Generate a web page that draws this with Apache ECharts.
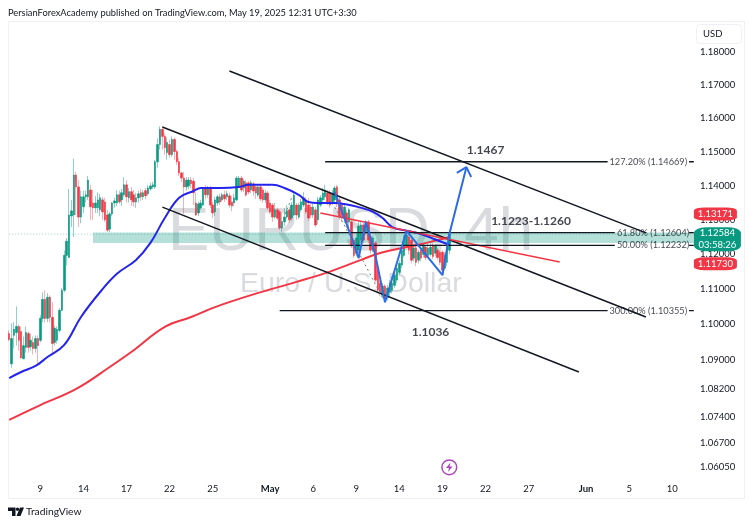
<!DOCTYPE html>
<html><head><meta charset="utf-8">
<style>html,body{margin:0;padding:0;background:#fff}#c{width:753px;height:527px}</style>
<script src="https://cdn.jsdelivr.net/npm/echarts@6/dist/echarts.min.js"></script></head>
<body><div id="c"></div>
<script>
// Bars: [open, close, low, high]
const ohlc = [
[1.0974,1.0957,1.0952,1.0983],[1.0889,1.0960,1.0878,1.1003],[1.0969,1.0986,1.0932,1.1006],[1.0977,1.0994,1.0940,1.1051],
[1.0994,1.0955,1.0926,1.1000],[1.0980,1.0906,1.0903,1.0994],[1.0903,1.0940,1.0903,1.0966],[1.0935,1.0977,1.0920,1.0994],
[1.0974,1.0935,1.0920,1.0980],[1.0937,1.0955,1.0926,1.0974],[1.0949,1.0932,1.0915,1.0966],[1.0932,1.0960,1.0920,1.0969],
[1.0960,1.0940,1.0889,1.0969],[1.0955,1.1017,1.0949,1.1026],[1.1017,1.1071,1.1006,1.1091],[1.1071,1.1017,1.1006,1.1097],
[1.1017,1.1077,1.1006,1.1089],[1.1077,1.1020,1.1006,1.1083],[1.1020,1.0946,1.0912,1.1063],[1.0949,1.0989,1.0940,1.0997],
[1.0955,1.0986,1.0946,1.0994],[1.0983,1.1040,1.0977,1.1046],[1.1040,1.1097,1.1037,1.1103],[1.1097,1.1197,1.1091,1.1211],
[1.1197,1.1238,1.1168,1.1247],[1.1191,1.1314,1.1191,1.1390],[1.1311,1.1326,1.1279,1.1358],[1.1314,1.1431,1.1250,1.1479],
[1.1431,1.1396,1.1314,1.1440],[1.1396,1.1308,1.1279,1.1416],[1.1308,1.1367,1.1290,1.1385],[1.1338,1.1367,1.1320,1.1385],
[1.1367,1.1373,1.1350,1.1385],[1.1367,1.1416,1.1358,1.1428],[1.1387,1.1338,1.1300,1.1402],[1.1349,1.1335,1.1300,1.1387],
[1.1335,1.1349,1.1320,1.1370],[1.1335,1.1358,1.1320,1.1380],[1.1329,1.1364,1.1310,1.1376],[1.1358,1.1323,1.1300,1.1367],
[1.1352,1.1300,1.1294,1.1364],[1.1314,1.1270,1.1264,1.1329],[1.1273,1.1317,1.1264,1.1323],[1.1317,1.1349,1.1310,1.1352],
[1.1349,1.1355,1.1335,1.1364],[1.1349,1.1373,1.1340,1.1387],[1.1373,1.1352,1.1346,1.1385],[1.1358,1.1379,1.1340,1.1390],
[1.1373,1.1402,1.1367,1.1425],[1.1402,1.1367,1.1350,1.1416],[1.1364,1.1382,1.1350,1.1393],[1.1382,1.1358,1.1340,1.1396],
[1.1373,1.1352,1.1338,1.1387],[1.1352,1.1364,1.1335,1.1379],[1.1364,1.1376,1.1350,1.1385],[1.1379,1.1367,1.1355,1.1390],
[1.1367,1.1379,1.1358,1.1387],[1.1385,1.1370,1.1360,1.1393],[1.1376,1.1393,1.1370,1.1402],[1.1390,1.1399,1.1385,1.1408],
[1.1396,1.1402,1.1390,1.1411],[1.1396,1.1470,1.1390,1.1476],[1.1470,1.1521,1.1452,1.1539],[1.1521,1.1566,1.1506,1.1575],
[1.1566,1.1545,1.1506,1.1575],[1.1545,1.1512,1.1491,1.1554],[1.1497,1.1527,1.1476,1.1542],[1.1521,1.1491,1.1482,1.1536],
[1.1491,1.1536,1.1485,1.1545],[1.1536,1.1500,1.1476,1.1542],[1.1500,1.1470,1.1461,1.1506],[1.1470,1.1437,1.1428,1.1482],
[1.1437,1.1422,1.1410,1.1440],[1.1422,1.1396,1.1317,1.1440],[1.1396,1.1416,1.1385,1.1425],[1.1399,1.1416,1.1390,1.1425],
[1.1416,1.1405,1.1393,1.1425],[1.1413,1.1379,1.1343,1.1422],[1.1349,1.1314,1.1311,1.1379],[1.1320,1.1346,1.1311,1.1352],
[1.1335,1.1349,1.1329,1.1358],[1.1343,1.1393,1.1340,1.1396],[1.1393,1.1373,1.1360,1.1402],[1.1373,1.1393,1.1364,1.1399],
[1.1393,1.1343,1.1335,1.1399],[1.1343,1.1320,1.1305,1.1352],[1.1323,1.1358,1.1311,1.1367],[1.1349,1.1367,1.1340,1.1373],
[1.1367,1.1352,1.1343,1.1376],[1.1358,1.1373,1.1352,1.1379],[1.1373,1.1361,1.1352,1.1385],[1.1367,1.1376,1.1358,1.1385],
[1.1370,1.1343,1.1335,1.1379],[1.1352,1.1340,1.1325,1.1370],[1.1349,1.1364,1.1340,1.1376],
[1.1358,1.1422,1.1355,1.1428],[1.1399,1.1422,1.1393,1.1428],[1.1422,1.1387,1.1381,1.1428],[1.1393,1.1413,1.1381,1.1419],
[1.1408,1.1372,1.1367,1.1416],[1.1408,1.1381,1.1375,1.1413],[1.1387,1.1408,1.1378,1.1416],[1.1405,1.1384,1.1370,1.1411],
[1.1396,1.1378,1.1361,1.1402],[1.1372,1.1396,1.1367,1.1402],[1.1396,1.1361,1.1355,1.1402],[1.1387,1.1358,1.1349,1.1393],
[1.1358,1.1378,1.1349,1.1387],[1.1378,1.1335,1.1329,1.1384],[1.1349,1.1323,1.1317,1.1358],[1.1343,1.1308,1.1294,1.1349],
[1.1308,1.1329,1.1303,1.1349],[1.1329,1.1305,1.1300,1.1335],[1.1323,1.1276,1.1270,1.1329],[1.1276,1.1294,1.1265,1.1320],
[1.1294,1.1308,1.1282,1.1335],[1.1308,1.1326,1.1303,1.1343],[1.1329,1.1300,1.1291,1.1337],[1.1305,1.1343,1.1297,1.1352],
[1.1314,1.1372,1.1311,1.1381],[1.1343,1.1314,1.1300,1.1349],[1.1308,1.1343,1.1303,1.1349],[1.1329,1.1352,1.1323,1.1361],
[1.1343,1.1364,1.1337,1.1381],[1.1358,1.1323,1.1317,1.1367],[1.1343,1.1305,1.1297,1.1364],[1.1337,1.1314,1.1305,1.1346],
[1.1314,1.1337,1.1305,1.1346],[1.1329,1.1285,1.1279,1.1337],[1.1300,1.1358,1.1288,1.1367],[1.1343,1.1364,1.1337,1.1372],
[1.1358,1.1378,1.1349,1.1393],[1.1367,1.1387,1.1358,1.1402],[1.1378,1.1349,1.1343,1.1387],[1.1378,1.1343,1.1335,1.1387],
[1.1349,1.1378,1.1343,1.1387],[1.1358,1.1393,1.1349,1.1399],[1.1396,1.1349,1.1337,1.1402],[1.1358,1.1308,1.1300,1.1367],
[1.1343,1.1305,1.1294,1.1352],[1.1305,1.1337,1.1291,1.1343],[1.1320,1.1291,1.1276,1.1329],[1.1294,1.1329,1.1276,1.1335],
[1.1294,1.1227,1.1218,1.1300],[1.1241,1.1197,1.1189,1.1247],[1.1203,1.1247,1.1194,1.1262],[1.1212,1.1282,1.1206,1.1294],
[1.1241,1.1285,1.1232,1.1294],[1.1285,1.1241,1.1232,1.1291],[1.1265,1.1294,1.1256,1.1300],[1.1294,1.1241,1.1232,1.1300],
[1.1250,1.1212,1.1203,1.1259],[1.1212,1.1247,1.1206,1.1253],[1.1233,1.1126,1.1120,1.1238],[1.1154,1.1097,1.1088,1.1160],
[1.1117,1.1088,1.1080,1.1126],[1.1083,1.1109,1.1074,1.1117],[1.1109,1.1074,1.1063,1.1114],[1.1077,1.1103,1.1068,1.1112],
[1.1091,1.1117,1.1080,1.1126],[1.1097,1.1117,1.1088,1.1137],[1.1111,1.1140,1.1103,1.1148],[1.1126,1.1160,1.1117,1.1169],
[1.1148,1.1174,1.1140,1.1183],[1.1169,1.1212,1.1160,1.1221],[1.1197,1.1241,1.1191,1.1256],[1.1227,1.1256,1.1218,1.1268],
[1.1250,1.1212,1.1200,1.1259],[1.1241,1.1183,1.1174,1.1247],[1.1189,1.1218,1.1180,1.1224],[1.1218,1.1177,1.1166,1.1224],
[1.1183,1.1206,1.1174,1.1212],[1.1212,1.1189,1.1180,1.1221],[1.1200,1.1227,1.1191,1.1233],[1.1221,1.1191,1.1183,1.1227],
[1.1197,1.1218,1.1189,1.1233],[1.1200,1.1221,1.1194,1.1238],[1.1227,1.1194,1.1186,1.1233],[1.1203,1.1224,1.1194,1.1229],
[1.1212,1.1191,1.1183,1.1218],[1.1206,1.1177,1.1169,1.1212],[1.1206,1.1154,1.1143,1.1212],[1.1160,1.1197,1.1154,1.1206],
[1.1177,1.1218,1.1166,1.1224],[1.1212,1.12584,1.1200,1.1273]
];
// Moving averages: [bar, price]
const maBlue = [[0,1.0849],[5,1.0866],[11,1.0883],[16,1.0908],[23,1.0942],[30,1.1021],[38,1.1092],[45,1.1144],[53,1.1184],[59,1.1233],[65,1.1305],[71,1.1364],[77,1.1384],[80,1.1393],[88,1.1393],[96,1.1396],[100,1.1402],[110,1.1402],[115,1.1393],[121,1.1373],[125,1.1352],[129,1.1349],[136,1.1349],[140,1.1346],[146,1.1337],[152,1.1323],[156,1.1305],[160,1.1279],[166,1.1268],[172,1.1259],[178,1.1243],[184,1.1227]];
const maRed = [[0,1.0733],[13,1.0774],[28,1.0819],[42,1.0880],[51,1.0922],[65,1.0993],[76,1.1021],[86,1.1049],[101,1.1083],[120,1.1121],[132,1.1146],[147,1.1184],[155,1.1204],[166,1.1221],[176,1.1236],[184,1.1250]];
// Drawings: [bar, price]
const channelTop = [[92,1.1741],[266,1.1262]];
const channelMid = [[64,1.1573],[266,1.1021]];
const channelLow = [[64,1.1337],[238,1.0866]];
const redTrend = [[130,1.1320],[230,1.1178]];
const zigzag = [[136,1.1381],[143,1.1250],[146,1.1189],[149,1.1294],[153,1.1197],[157,1.1063],[166,1.1268],[181,1.1140],[184,1.1262],[191,1.1454]];
const arrowHead = [[187,1.1437],[191,1.1454],[193,1.1425]];
const dashA = [[136,1.1337],[156,1.1075]];
const dashB = [[113,1.1276],[118,1.1364]];
const zone = [35,286,1.1263,1.1233];
// Fibonacci: [startBar, endBar, price as drawn, labelBar, label]
const fibLines = [[132,250,1.1470,267,'127.20% (1.14669)'],[132,253,1.1263,269,'61.80% (1.12604)'],[132,253,1.1226,269,'50.00% (1.12232)'],[113,250,1.1039,267,'300.00% (1.10355)']];
const notes = [[199,1.1505,'1.1467'],[218,1.1297,'1.1223-1.1260'],[176,1.0979,'1.1036']];
const lastPrice = 1.12584, highBadge = 1.13171, lowBadge = 1.11730, countdown = '03:58:26';
const priceTicks = [1.18,1.17,1.16,1.15,1.14,1.13,1.12,1.11,1.10,1.09,1.082,1.074,1.067,1.0605];
const dateTickBars = [13,31,49,67,85,109,127,145,163,181,199,217,241,259,277];
const dateTickText = ['9','14','17','22','25','May','6','9','14','19','22','27','Jun','5','10'];
const barCount = 287;

const categories = Array.from({length:barCount},(_,i)=>String(i));
const FONT = 'Lato,"Open Sans",sans-serif';
const UP='#089981', DOWN='#f23645';
const wicks = ohlc;
const bodies = ohlc.map(b=>[b[0],b[1],Math.min(b[0],b[1]),Math.max(b[0],b[1])]);
const line=(name,data,color,width,extra)=>Object.assign({name,type:'line',data,symbol:'none',silent:true,animation:false,
  lineStyle:{color,width},itemStyle:{color}},extra||{});

const fibSeries = [];
fibLines.forEach((f,k)=>{
  fibSeries.push(line('fib'+k,[[f[0],f[2]],[f[1],f[2]]],'#131722',1.3));
  fibSeries.push(line('fibtail'+k,[[284,f[2]],[286,f[2]]],'#131722',1.3));
});
const textPoint=(bar,price,txt,size,weight)=>({value:[bar,price],label:{show:true,position:'inside',formatter:txt,fontSize:size,fontWeight:weight,color:'#131722',fontFamily:FONT}});
const texts = fibLines.map(f=>textPoint(f[3],f[2],f[4],9.2,'normal')).concat(notes.map(n=>textPoint(n[0],n[1],n[2],12,'bold')));
const badge=(value,txt,color,w,h,dx,dy)=>({coord:[categories[286],value],symbol:'roundRect',symbolSize:[w,h],symbolOffset:[dx,dy],itemStyle:{color},
  label:{show:true,position:'inside',formatter:txt,color:'#fff',fontSize:9.5,lineHeight:12,fontFamily:FONT}});

const chart = echarts.init(document.getElementById('c'),null,{renderer:'canvas'});
chart.setOption({
  animation:false,
  grid:{left:8,top:21,width:687,height:458,containLabel:false,show:false},
  xAxis:{type:'category',data:categories,boundaryGap:true,axisLine:{show:false},axisTick:{show:false},splitLine:{show:false},
    axisLabel:{interval:i=>dateTickBars.includes(i),margin:5,fontSize:9.5,color:'#131722',fontFamily:FONT,hideOverlap:false,
      formatter:(v,i)=>{const t=dateTickText[dateTickBars.indexOf(+v)];return t==='May'||t==='Jun'?'{b|'+t+'}':(t||'');},
      rich:{b:{fontWeight:'bold',fontSize:9.5,color:'#131722',fontFamily:FONT}}}},
  yAxis:{type:'log',logBase:Math.E,position:'right',min:1.0571,max:1.1893,scale:true,axisLine:{show:false},axisTick:{show:false},splitLine:{show:false},minorTick:{show:false},minorSplitLine:{show:false},
    axisLabel:{customValues:priceTicks,margin:5,fontSize:9.5,padding:[2,0,0,0],color:'#131722',fontFamily:FONT,formatter:v=>(+v).toFixed(5)}},
  graphic:[
    {type:'rect',z:0,shape:{x:8.5,y:21.5,width:736,height:477},style:{fill:'#fff',stroke:'#f0f1f4',lineWidth:1},silent:true},
    {type:'text',z:1,left:168,top:202,style:{text:'EURUSD, 4h',font:'62px "Liberation Sans"',fill:'#dadbde'},silent:true},
    {type:'text',z:1,left:240,top:270,style:{text:'Euro / U.S. Dollar',font:'28.5px "Liberation Sans"',fill:'#dadbde'},silent:true},
    {type:'rect',z:3,shape:{x:696.5,y:24.5,width:45,height:19,r:4},style:{fill:'#fff',stroke:'#eff0f3'},silent:true},
    {type:'text',z:4,left:703,top:29,style:{text:'USD',font:'9.5px '+FONT,fill:'#131722'},silent:true},
    {type:'text',z:4,left:8,top:8,style:{text:'PersianForexAcademy published on TradingView.com, May 19, 2025 12:31 UTC+3:30',font:'9.3px '+FONT,fill:'#131722'},silent:true},
    {type:'text',z:4,left:26,top:507,style:{text:'TradingView',font:'10.3px '+FONT,fill:'#131722'},silent:true},
    {type:'polygon',z:4,shape:{points:[[8,507.5],[15.5,507.5],[15.5,516],[12,516],[12,511],[8,511]]},style:{fill:'#131722'},silent:true},
    {type:'circle',z:4,shape:{cx:17.5,cy:509.2,r:1.7},style:{fill:'#131722'},silent:true},
    {type:'polygon',z:4,shape:{points:[[20,507.5],[24,507.5],[20.5,516],[16.5,516]]},style:{fill:'#131722'},silent:true},
    {type:'circle',z:4,shape:{cx:449.3,cy:467.3,r:7.4},style:{fill:'#fff',stroke:'#ab47bc',lineWidth:1.5},silent:true},
    {type:'polygon',z:5,shape:{points:[[450.5,462.5],[446,468],[449,468],[448,472],[452.6,466.6],[449.6,466.6]]},style:{fill:'#ab47bc'},silent:true}
  ],
  series:[
    {name:'wicks',type:'candlestick',data:wicks,barWidth:1,silent:true,animation:false,z:2,
      itemStyle:{color:'rgba(8,153,129,.45)',color0:'rgba(242,54,69,.4)',borderColor:'rgba(8,153,129,.45)',borderColor0:'rgba(242,54,69,.4)',borderWidth:1},
      markArea:{silent:true,z:1,itemStyle:{color:'rgba(8,153,129,.3)'},data:[[{xAxis:categories[zone[0]],yAxis:zone[2]},{xAxis:categories[zone[1]],yAxis:zone[3]}]]}},
    line('lastPriceLine',[[0,lastPrice],[286,lastPrice]],'rgba(8,153,129,.4)',1,{z:1,lineStyle:{color:'rgba(8,153,129,.4)',width:1,type:[1,2]}}),
    {name:'bodies',type:'candlestick',data:bodies,barWidth:2,silent:true,animation:false,z:3,
      itemStyle:{color:UP,color0:DOWN,borderColor:UP,borderColor0:DOWN,borderWidth:0.6}},
    line('ma200',maRed,'#f23645',2,{smooth:0.4,z:4}),
    line('ma50',maBlue,'#2424ee',2,{smooth:0.4,z:5}),
    line('channelTop',channelTop,'#131722',1.5,{z:6}),
    line('channelMid',channelMid,'#131722',1.5,{z:6}),
    line('channelLow',channelLow,'#131722',1.5,{z:6}),
    line('redTrend',redTrend,'#f23645',1.5,{z:6}),
    line('dashA',dashA,'#787b86',1,{z:6,lineStyle:{color:'#787b86',width:1,type:[2,3]}}),
    line('dashB',dashB,'#787b86',1,{z:6,lineStyle:{color:'#787b86',width:1,type:[2,3]}}),
    line('zigzag',zigzag,'#2e6be6',2,{z:7}),
    line('arrow',arrowHead,'#2e6be6',2,{z:7}),
    ...fibSeries.map(s=>Object.assign(s,{z:6})),
    {name:'texts',type:'scatter',data:texts,symbolSize:0,silent:true,animation:false,z:8,
      markPoint:{silent:true,animation:false,z:9,data:[
        badge(highBadge,highBadge.toFixed(5),DOWN,43,13,21.6,0),
        badge(lowBadge,lowBadge.toFixed(5),DOWN,43,13,21.6,0),
        badge(lastPrice,lastPrice.toFixed(5)+'\n'+countdown,UP,47,24,23.6,5)
      ]}}
  ]
});
</script></body></html>
